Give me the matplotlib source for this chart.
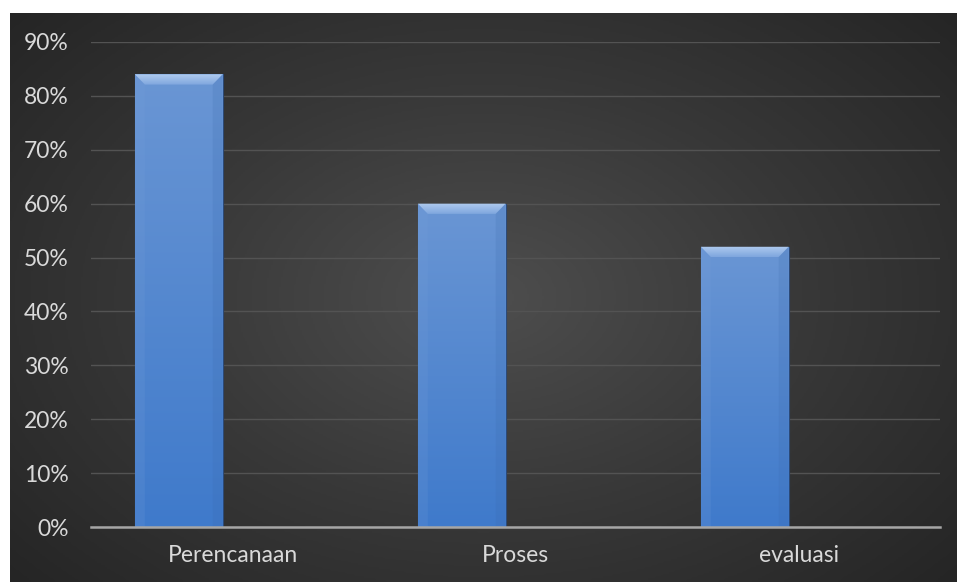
import numpy as np
import matplotlib.pyplot as plt
from matplotlib.patches import Polygon
from matplotlib.colors import LinearSegmentedColormap
from matplotlib.ticker import PercentFormatter

categories = ['Perencanaan', 'Proses', 'evaluasi']
values = [0.84, 0.60, 0.52]
y_ticks = [0.0, 0.1, 0.2, 0.3, 0.4, 0.5, 0.6, 0.7, 0.8, 0.9]

plt.rcParams['font.family'] = ['Lato', 'DejaVu Sans']

fig = plt.figure(figsize=(9.57, 5.82), dpi=100)
fig.patch.set_facecolor('white')

# dark radial background
bg = fig.add_axes([10 / 957, 0, 947 / 957, 569 / 582])
yy, xx = np.mgrid[-1:1:300j, -1:1:500j]
r = np.sqrt(xx ** 2 + (yy * 0.9) ** 2)
bg_cmap = LinearSegmentedColormap.from_list('bg', ['#4e4e4e', '#383838', '#252525'])
bg.imshow(np.clip(r / 1.35, 0, 1), cmap=bg_cmap, aspect='auto', vmin=0, vmax=1)
bg.set_axis_off()

ax = fig.add_axes([91 / 957, 1 - 527 / 582, 849 / 957, 485 / 582])
ax.set_facecolor('none')
x = np.arange(len(categories))
# bars sit left of the category centre (first slot of a clustered group)
bars = ax.bar(x - 0.19, values, width=0.31, color='#5b8bd0', edgecolor='#2c4a78',
              linewidth=0.8, zorder=3)

# vertical gradient + bevel on each bar
bar_cmap = LinearSegmentedColormap.from_list('bar', ['#3f7acb', '#6a96d4'])
top_cmap = LinearSegmentedColormap.from_list('top', ['#7ea6de', '#b0cbef'])
grad = np.linspace(0, 1, 256).reshape(-1, 1)
for b in bars:
    x0, w, h = b.get_x(), b.get_width(), b.get_height()
    im = ax.imshow(grad, cmap=bar_cmap, extent=[x0, x0 + w, 0, h], origin='lower',
                   aspect='auto', zorder=3.5)
    im.set_clip_path(b)
    bx = 0.035
    by = 0.019
    top = Polygon([(x0, h), (x0 + w, h), (x0 + w - bx, h - by), (x0 + bx, h - by)],
                  closed=True, facecolor='none', edgecolor='none', zorder=4)
    ax.add_patch(top)
    tim = ax.imshow(grad, cmap=top_cmap, extent=[x0, x0 + w, h - by, h], origin='lower',
                    aspect='auto', zorder=4)
    tim.set_clip_path(top)
    ax.add_patch(Polygon([(x0, h), (x0 + bx, h - by), (x0 + bx, 0), (x0, 0)],
                         closed=True, facecolor='#77a0da', edgecolor='none', alpha=0.18, zorder=4))
    ax.add_patch(Polygon([(x0 + w, h), (x0 + w - bx, h - by), (x0 + w - bx, 0), (x0 + w, 0)],
                         closed=True, facecolor='#3a68ab', edgecolor='none', alpha=0.18, zorder=4))

ax.set_xlim(-0.5, 2.5)
ax.set_ylim(0, 0.9)
ax.set_yticks(y_ticks)
ax.yaxis.set_major_formatter(PercentFormatter(1.0, decimals=0))
ax.set_xticks(x)
ax.set_xticklabels(categories)
ax.grid(axis='y', color='#535353', linewidth=1.0, zorder=0)
ax.tick_params(length=0, colors='#d9d9d9', labelsize=16.5)
ax.tick_params(axis='y', pad=16)
ax.tick_params(axis='x', pad=13)
for s in ['top', 'right', 'left']:
    ax.spines[s].set_visible(False)
ax.spines['bottom'].set_color('#a6a6a6')
ax.spines['bottom'].set_linewidth(1.8)
ax.spines['bottom'].set_zorder(5)

fig.savefig('out.png', dpi=100)
